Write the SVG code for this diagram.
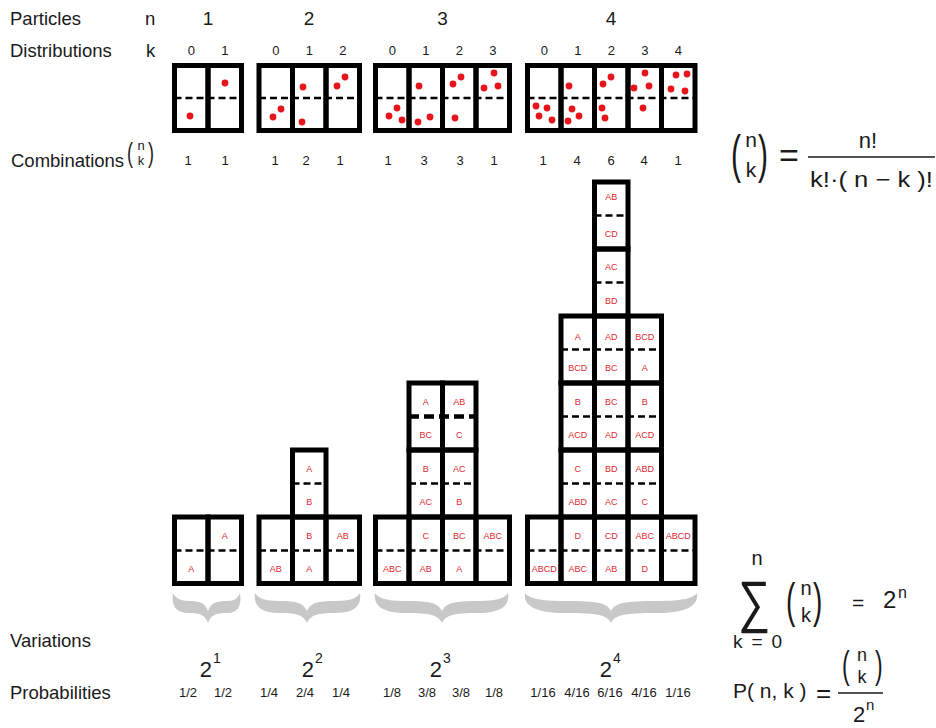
<svg xmlns="http://www.w3.org/2000/svg" width="936" height="728" viewBox="0 0 936 728">
<style>
text{font-family:"Liberation Sans",Arial,Helvetica,sans-serif;fill:#1a1a1a}
.h{font-size:18.5px}
.num{font-size:13px;text-anchor:middle}
.big{font-size:19px;text-anchor:middle}
.box{fill:none;stroke:#000;stroke-width:5}
.dash{stroke:#000;stroke-width:2.5;stroke-dasharray:7 4;fill:none}
.dashb{stroke:#000;stroke-width:4.5;stroke-dasharray:10 5;fill:none}
.dot{fill:#e8141b}
.v{font-size:9px;text-anchor:middle;fill:#e0282e}
.brace{fill:#c8c8c8}
.f{font-size:21px}
.fm{text-anchor:middle}
.fl{stroke:#1a1a1a;stroke-width:1.5}
</style>
<rect width="936" height="728" fill="#fff"/>

<g id="row-labels">
<text class="h" x="10" y="25">Particles</text>
<text class="h" x="145" y="25">n</text>
<text class="h" x="10" y="57">Distributions</text>
<text class="h" x="146" y="57">k</text>
<text class="h" x="11" y="167">Combinations</text>
<text transform="translate(127,162) scale(1,1.5)" font-size="18">(</text>
<text class="num" x="141" y="150">n</text>
<text class="num" x="141" y="165">k</text>
<text transform="translate(148,162) scale(1,1.5)" font-size="18">)</text>
<text class="h" x="10" y="647">Variations</text>
<text class="h" x="10" y="699">Probabilities</text>
</g>

<g id="particles">
<text class="big" x="208" y="25">1</text>
<text class="big" x="309" y="25">2</text>
<text class="big" x="442.5" y="25">3</text>
<text class="big" x="611" y="25">4</text>
</g>

<g id="k-labels">
<text class="num" x="191.25" y="55">0</text><text class="num" x="224.75" y="55">1</text>
<text class="num" x="275.75" y="55">0</text><text class="num" x="309.25" y="55">1</text><text class="num" x="342.75" y="55">2</text>
<text class="num" x="392.25" y="55">0</text><text class="num" x="425.75" y="55">1</text><text class="num" x="459.25" y="55">2</text><text class="num" x="492.75" y="55">3</text>
<text class="num" x="544.25" y="55">0</text><text class="num" x="577.75" y="55">1</text><text class="num" x="611.25" y="55">2</text><text class="num" x="644.75" y="55">3</text><text class="num" x="678.25" y="55">4</text>
</g>

<g id="distributions">
<g id="dist-n1">
<rect class="box" x="174.5" y="65.5" width="33.5" height="65"/><rect class="box" x="208" y="65.5" width="33.5" height="65"/>
<line class="dash" x1="174.5" y1="98" x2="241.5" y2="98"/>
<circle class="dot" cx="190" cy="116" r="3.4"/>
<circle class="dot" cx="225" cy="83" r="3.4"/>
</g>
<g id="dist-n2">
<rect class="box" x="259" y="65.5" width="33.5" height="65"/><rect class="box" x="292.5" y="65.5" width="33.5" height="65"/><rect class="box" x="326" y="65.5" width="33.5" height="65"/>
<line class="dash" x1="259" y1="98" x2="359.5" y2="98"/>
<circle class="dot" cx="281" cy="109" r="3.4"/><circle class="dot" cx="273" cy="117" r="3.4"/>
<circle class="dot" cx="303" cy="87" r="3.4"/><circle class="dot" cx="302" cy="122" r="3.4"/>
<circle class="dot" cx="337" cy="86" r="3.4"/><circle class="dot" cx="345" cy="77" r="3.4"/>
</g>
<g id="dist-n3">
<rect class="box" x="375.5" y="65.5" width="33.5" height="65"/><rect class="box" x="409" y="65.5" width="33.5" height="65"/><rect class="box" x="442.5" y="65.5" width="33.5" height="65"/><rect class="box" x="476" y="65.5" width="33.5" height="65"/>
<line class="dash" x1="375.5" y1="98" x2="509.5" y2="98"/>
<circle class="dot" cx="397" cy="108" r="3.4"/><circle class="dot" cx="389" cy="116" r="3.4"/><circle class="dot" cx="402" cy="120" r="3.4"/>
<circle class="dot" cx="419" cy="86" r="3.4"/><circle class="dot" cx="418" cy="122" r="3.4"/><circle class="dot" cx="430" cy="117" r="3.4"/>
<circle class="dot" cx="453" cy="84" r="3.4"/><circle class="dot" cx="461" cy="77" r="3.4"/><circle class="dot" cx="455" cy="118" r="3.4"/>
<circle class="dot" cx="494" cy="73" r="3.4"/><circle class="dot" cx="484" cy="88" r="3.4"/><circle class="dot" cx="498" cy="86" r="3.4"/>
</g>
<g id="dist-n4">
<rect class="box" x="527.5" y="65.5" width="33.5" height="65"/><rect class="box" x="561" y="65.5" width="33.5" height="65"/><rect class="box" x="594.5" y="65.5" width="33.5" height="65"/><rect class="box" x="628" y="65.5" width="33.5" height="65"/><rect class="box" x="661.5" y="65.5" width="33.5" height="65"/>
<line class="dash" x1="527.5" y1="98" x2="695" y2="98"/>
<circle class="dot" cx="536" cy="106" r="3.4"/><circle class="dot" cx="547" cy="108" r="3.4"/><circle class="dot" cx="539" cy="116" r="3.4"/><circle class="dot" cx="552" cy="120" r="3.4"/>
<circle class="dot" cx="569" cy="86" r="3.4"/><circle class="dot" cx="572" cy="109" r="3.4"/><circle class="dot" cx="579" cy="116" r="3.4"/><circle class="dot" cx="568" cy="121" r="3.4"/>
<circle class="dot" cx="603" cy="84" r="3.4"/><circle class="dot" cx="611" cy="77" r="3.4"/><circle class="dot" cx="602" cy="108" r="3.4"/><circle class="dot" cx="605" cy="118" r="3.4"/>
<circle class="dot" cx="645" cy="73" r="3.4"/><circle class="dot" cx="634" cy="88" r="3.4"/><circle class="dot" cx="649" cy="86" r="3.4"/><circle class="dot" cx="643" cy="108" r="3.4"/>
<circle class="dot" cx="676" cy="75" r="3.4"/><circle class="dot" cx="687" cy="74" r="3.4"/><circle class="dot" cx="671" cy="89" r="3.4"/><circle class="dot" cx="685" cy="91" r="3.4"/>
</g>
</g>

<g id="combinations">
<text class="num" x="188" y="165">1</text><text class="num" x="225" y="165">1</text>
<text class="num" x="275" y="165">1</text><text class="num" x="306" y="165">2</text><text class="num" x="340" y="165">1</text>
<text class="num" x="388" y="165">1</text><text class="num" x="424" y="165">3</text><text class="num" x="460" y="165">3</text><text class="num" x="494" y="165">1</text>
<text class="num" x="543" y="165">1</text><text class="num" x="577" y="165">4</text><text class="num" x="611" y="165">6</text><text class="num" x="644" y="165">4</text><text class="num" x="678" y="165">1</text>
</g>

<g id="formula-binomial">
<text transform="translate(731,172) scale(1,1.7)" font-size="30">(</text>
<text class="f fm" x="751" y="147">n</text>
<text class="f fm" x="751" y="177">k</text>
<text transform="translate(758,172) scale(1,1.7)" font-size="30">)</text>
<text x="779" y="167" font-size="34">=</text>
<line class="fl" x1="808" y1="157" x2="935" y2="157"/>
<text class="fm" x="868" y="148" font-size="22">n!</text>
<text x="810" y="187" font-size="22" textLength="123" lengthAdjust="spacingAndGlyphs">k!·( n − k )!</text>
</g>

<g id="variations">
<g id="var-n1"><rect class="box" x="174.5" y="517" width="33.5" height="66.5"/><rect class="box" x="208" y="517" width="33.5" height="66.5"/>
<line class="dash" x1="174.5" y1="550.5" x2="241.5" y2="550.5"/>
<text class="v" x="224.75" y="538.5">A</text><text class="v" x="191.25" y="571.5">A</text></g>

<g id="var-n2">
<rect class="box" x="292.5" y="450" width="33.5" height="67"/>
<line class="dash" x1="292.5" y1="483.5" x2="326" y2="483.5"/>
<text class="v" x="309.25" y="471.5">A</text><text class="v" x="309.25" y="504.5">B</text>
<rect class="box" x="259" y="517" width="33.5" height="66.5"/><rect class="box" x="292.5" y="517" width="33.5" height="66.5"/><rect class="box" x="326" y="517" width="33.5" height="66.5"/>
<line class="dash" x1="259" y1="550.5" x2="359.5" y2="550.5"/>
<text class="v" x="309.25" y="538.5">B</text><text class="v" x="342.75" y="538.5">AB</text>
<text class="v" x="275.75" y="571.5">AB</text><text class="v" x="309.25" y="571.5">A</text>
</g>

<g id="var-n3">
<rect class="box" x="409" y="383" width="33.5" height="67"/><rect class="box" x="442.5" y="383" width="33.5" height="67"/>
<line class="dashb" x1="409" y1="416.5" x2="476" y2="416.5"/>
<text class="v" x="425.75" y="404.5">A</text><text class="v" x="459.25" y="404.5">AB</text>
<text class="v" x="425.75" y="437.5">BC</text><text class="v" x="459.25" y="437.5">C</text>
<rect class="box" x="409" y="450" width="33.5" height="67"/><rect class="box" x="442.5" y="450" width="33.5" height="67"/>
<line class="dash" x1="409" y1="483.5" x2="476" y2="483.5"/>
<text class="v" x="425.75" y="471.5">B</text><text class="v" x="459.25" y="471.5">AC</text>
<text class="v" x="425.75" y="504.5">AC</text><text class="v" x="459.25" y="504.5">B</text>
<rect class="box" x="375.5" y="517" width="33.5" height="66.5"/><rect class="box" x="409" y="517" width="33.5" height="66.5"/><rect class="box" x="442.5" y="517" width="33.5" height="66.5"/><rect class="box" x="476" y="517" width="33.5" height="66.5"/>
<line class="dash" x1="375.5" y1="550.5" x2="509.5" y2="550.5"/>
<text class="v" x="425.75" y="538.5">C</text><text class="v" x="459.25" y="538.5">BC</text><text class="v" x="492.75" y="538.5">ABC</text>
<text class="v" x="392.25" y="571.5">ABC</text><text class="v" x="425.75" y="571.5">AB</text><text class="v" x="459.25" y="571.5">A</text>
</g>

<g id="var-n4">
<rect class="box" x="594.5" y="182" width="33.5" height="67"/>
<line class="dash" x1="594.5" y1="215.5" x2="628" y2="215.5"/>
<text class="v" x="611.25" y="200">AB</text><text class="v" x="611.25" y="236.5">CD</text>
<rect class="box" x="594.5" y="249" width="33.5" height="67"/>
<line class="dash" x1="594.5" y1="282.5" x2="628" y2="282.5"/>
<text class="v" x="611.25" y="269.5">AC</text><text class="v" x="611.25" y="303.5">BD</text>
<rect class="box" x="561" y="316" width="33.5" height="67"/><rect class="box" x="594.5" y="316" width="33.5" height="67"/><rect class="box" x="628" y="316" width="33.5" height="67"/>
<line class="dash" x1="561" y1="349.5" x2="661.5" y2="349.5"/>
<text class="v" x="577.75" y="339.5">A</text><text class="v" x="611.25" y="339.5">AD</text><text class="v" x="644.75" y="339.5">BCD</text>
<text class="v" x="577.75" y="370.5">BCD</text><text class="v" x="611.25" y="370.5">BC</text><text class="v" x="644.75" y="370.5">A</text>
<rect class="box" x="561" y="383" width="33.5" height="67"/><rect class="box" x="594.5" y="383" width="33.5" height="67"/><rect class="box" x="628" y="383" width="33.5" height="67"/>
<line class="dash" x1="561" y1="416.5" x2="661.5" y2="416.5"/>
<text class="v" x="577.75" y="404.5">B</text><text class="v" x="611.25" y="404.5">BC</text><text class="v" x="644.75" y="404.5">B</text>
<text class="v" x="577.75" y="437.5">ACD</text><text class="v" x="611.25" y="437.5">AD</text><text class="v" x="644.75" y="437.5">ACD</text>
<rect class="box" x="561" y="450" width="33.5" height="67"/><rect class="box" x="594.5" y="450" width="33.5" height="67"/><rect class="box" x="628" y="450" width="33.5" height="67"/>
<line class="dash" x1="561" y1="483.5" x2="661.5" y2="483.5"/>
<text class="v" x="577.75" y="471.5">C</text><text class="v" x="611.25" y="471.5">BD</text><text class="v" x="644.75" y="471.5">ABD</text>
<text class="v" x="577.75" y="504.5">ABD</text><text class="v" x="611.25" y="504.5">AC</text><text class="v" x="644.75" y="504.5">C</text>
<rect class="box" x="527.5" y="517" width="33.5" height="66.5"/><rect class="box" x="561" y="517" width="33.5" height="66.5"/><rect class="box" x="594.5" y="517" width="33.5" height="66.5"/><rect class="box" x="628" y="517" width="33.5" height="66.5"/><rect class="box" x="661.5" y="517" width="33.5" height="66.5"/>
<line class="dash" x1="527.5" y1="550.5" x2="695" y2="550.5"/>
<text class="v" x="577.75" y="538.5">D</text><text class="v" x="611.25" y="538.5">CD</text><text class="v" x="644.75" y="538.5">ABC</text><text class="v" x="678.25" y="538.5">ABCD</text>
<text class="v" x="544.25" y="571.5">ABCD</text><text class="v" x="577.75" y="571.5">ABC</text><text class="v" x="611.25" y="571.5">AB</text><text class="v" x="644.75" y="571.5">D</text>
</g>
</g>

<g id="braces">
<path class="brace" d="M173,593 C171,606 176,613 189,613 C200,613 205,615 208,623 C211,615 216,613 227,613 C238,613 242,606 240,593 C238,598 235,601 227,601 C216,601 211,603 208,611 C205,603 200,601 189,601 C181,601 175,598 173,593 Z"/>
<path class="brace" d="M255,593 C253,606 261,613 280,613 C297,613 303,615 307,623 C311,615 317,613 335,613 C354,613 362,606 360,593 C357,598 351,601 335,601 C317,601 311,603 307,611 C303,603 297,601 280,601 C264,601 258,598 255,593 Z"/>
<path class="brace" d="M375,593 C373,606 383,613 406,613 C430,613 438,615 442,623 C446,615 454,613 478,613 C501,613 510,606 508,593 C505,598 497,601 478,601 C454,601 446,603 442,611 C438,603 430,601 406,601 C386,601 378,598 375,593 Z"/>
<path class="brace" d="M525,593 C523,606 536,613 565,613 C598,613 607,615 611,623 C615,615 624,613 657,613 C686,613 699,606 697,593 C694,598 683,601 657,601 C624,601 615,603 611,611 C607,603 598,601 565,601 C539,601 528,598 525,593 Z"/>
</g>

<g id="powers">
<text x="212" y="677" font-size="22" text-anchor="end">2</text><text x="213" y="663" font-size="14">1</text>
<text x="314" y="677" font-size="22" text-anchor="end">2</text><text x="315" y="663" font-size="14">2</text>
<text x="442" y="677" font-size="22" text-anchor="end">2</text><text x="443" y="663" font-size="14">3</text>
<text x="612" y="677" font-size="22" text-anchor="end">2</text><text x="613" y="663" font-size="14">4</text>
</g>

<g id="probabilities">
<text class="num" x="188" y="697">1/2</text><text class="num" x="223" y="697">1/2</text>
<text class="num" x="269" y="697">1/4</text><text class="num" x="305" y="697">2/4</text><text class="num" x="341" y="697">1/4</text>
<text class="num" x="392" y="697">1/8</text><text class="num" x="427" y="697">3/8</text><text class="num" x="461" y="697">3/8</text><text class="num" x="494" y="697">1/8</text>
<text class="num" x="543" y="697">1/16</text><text class="num" x="577" y="697">4/16</text><text class="num" x="610" y="697">6/16</text><text class="num" x="644" y="697">4/16</text><text class="num" x="678" y="697">1/16</text>
</g>

<g id="formula-sum">
<text class="fm" x="757" y="565" font-size="20">n</text>
<text transform="translate(738,621) scale(1.03,1.3)" font-size="44">∑</text>
<text x="733" y="648" font-size="19" textLength="49" lengthAdjust="spacing">k = 0</text>
<text transform="translate(786,617) scale(1,1.7)" font-size="28">(</text>
<text class="fm" x="806" y="595" font-size="20">n</text>
<text class="fm" x="806" y="622" font-size="20">k</text>
<text transform="translate(813,617) scale(1,1.7)" font-size="28">)</text>
<text x="852" y="610" font-size="21">=</text>
<text x="883" y="608" font-size="24">2</text>
<text x="898" y="598" font-size="16">n</text>
</g>

<g id="formula-probability">
<text x="733" y="698" font-size="21">P( n, k )</text>
<text x="816" y="702" font-size="26">=</text>
<line class="fl" x1="838" y1="693" x2="883" y2="693"/>
<text transform="translate(842,678) scale(1,1.65)" font-size="23">(</text>
<text class="fm" x="862" y="661" font-size="18">n</text>
<text class="fm" x="862" y="683" font-size="18">k</text>
<text transform="translate(875,678) scale(1,1.65)" font-size="23">)</text>
<text x="853" y="722" font-size="22">2</text>
<text x="866" y="710" font-size="15">n</text>
</g>
</svg>
